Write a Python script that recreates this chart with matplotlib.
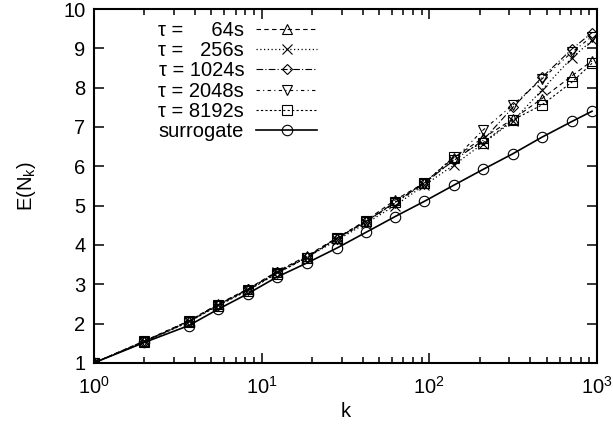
import matplotlib
matplotlib.use("Agg")
import matplotlib.pyplot as plt
from matplotlib.ticker import LogLocator, FixedLocator, NullFormatter

plt.rcParams['font.family'] = ['Liberation Sans', 'DejaVu Sans']
plt.rcParams['mathtext.default'] = 'regular'

k = [1, 2, 3.68, 5.48, 8.28, 12.3, 18.6, 28.1, 41.9, 62.4, 93.5, 140, 209, 315, 469, 708, 933]

tau64 = [1.0, 1.56, 2.07, 2.49, 2.88, 3.32, 3.72, 4.18, 4.62, 5.14, 5.58, 6.22, 6.72, 7.20, 7.72, 8.30, 8.68]
tau256 = [1.0, 1.55, 2.06, 2.47, 2.86, 3.30, 3.68, 4.12, 4.55, 5.00, 5.52, 6.03, 6.58, 7.15, 7.94, 8.76, 9.20]
tau1024 = [1.0, 1.54, 2.05, 2.47, 2.87, 3.30, 3.70, 4.16, 4.60, 5.08, 5.58, 6.15, 6.66, 7.50, 8.26, 8.98, 9.40]
tau2048 = [1.0, 1.55, 2.06, 2.48, 2.86, 3.28, 3.68, 4.15, 4.58, 5.06, 5.56, 6.17, 6.92, 7.56, 8.22, 8.90, 9.30]
tau8192 = [1.0, 1.53, 2.04, 2.45, 2.84, 3.27, 3.68, 4.17, 4.60, 5.08, 5.58, 6.24, 6.60, 7.18, 7.56, 8.14, 8.62]
surrogate = [1.0, 1.52, 1.95, 2.36, 2.76, 3.18, 3.54, 3.92, 4.32, 4.72, 5.11, 5.52, 5.92, 6.32, 6.74, 7.14, 7.40]

labels = ['\u03c4 =     64s', '\u03c4 =   256s', '\u03c4 = 1024s', '\u03c4 = 2048s', '\u03c4 = 8192s', 'surrogate']
yticks = [1, 2, 3, 4, 5, 6, 7, 8, 9, 10]

FS = 14.5

fig = plt.figure(figsize=(6.13, 4.29), dpi=100)
ax = fig.add_axes([0.153, 0.154, 0.821, 0.825])

series = [tau64, tau256, tau1024, tau2048, tau8192]
styles = [
    dict(ls=(0, (4, 3)), marker='^', lw=0.8),
    dict(ls=(0, (1, 2)), marker='x', lw=0.9),
    dict(ls=(0, (6, 2, 1, 2)), marker='D', lw=0.8),
    dict(ls=(0, (3, 3, 1, 3)), marker='v', lw=0.8),
    dict(ls=(0, (2, 2)), marker='s', lw=0.8),
]
for s, st, lab in zip(series, styles, labels[:5]):
    ms = 5.0 if st['marker'] == 'D' else 6.5
    ax.plot(k, s, color='black', linestyle=st['ls'], lw=st['lw'], marker=st['marker'],
            markersize=ms, markerfacecolor='none', markeredgecolor='black',
            markeredgewidth=0.8, label=lab)
ax.plot(k, surrogate, color='black', lw=1.2, marker='o', markersize=7.5,
        markerfacecolor='none', markeredgecolor='black', markeredgewidth=0.8, label=labels[5])

ax.set_xscale('log')
ax.set_xlim(1, 1000)
ax.set_ylim(1, 10)
ax.yaxis.set_major_locator(FixedLocator(yticks))
ax.xaxis.set_major_locator(LogLocator(base=10, numticks=10))
ax.xaxis.set_minor_locator(LogLocator(base=10, subs=range(2, 10), numticks=20))
ax.xaxis.set_minor_formatter(NullFormatter())

for sp in ax.spines.values():
    sp.set_linewidth(1.5)
ax.tick_params(which='both', direction='in', top=True, right=True, labelsize=FS, width=1.1)
ax.tick_params(which='major', length=7)
ax.tick_params(which='minor', length=4)
ax.tick_params(axis='x', which='major', pad=9)
ax.tick_params(axis='y', which='major', pad=6)

ax.set_xlabel('k', fontsize=FS, labelpad=3)
ax.set_ylabel('E(N$_k$)', fontsize=FS, labelpad=18)

leg = ax.legend(loc='upper right', bbox_to_anchor=(0.443, 0.966), frameon=False,
                markerfirst=False, fontsize=FS, handlelength=3.0, handletextpad=0.6,
                labelspacing=0.06, borderpad=0, borderaxespad=0)

fig.savefig('out.png', dpi=100)
